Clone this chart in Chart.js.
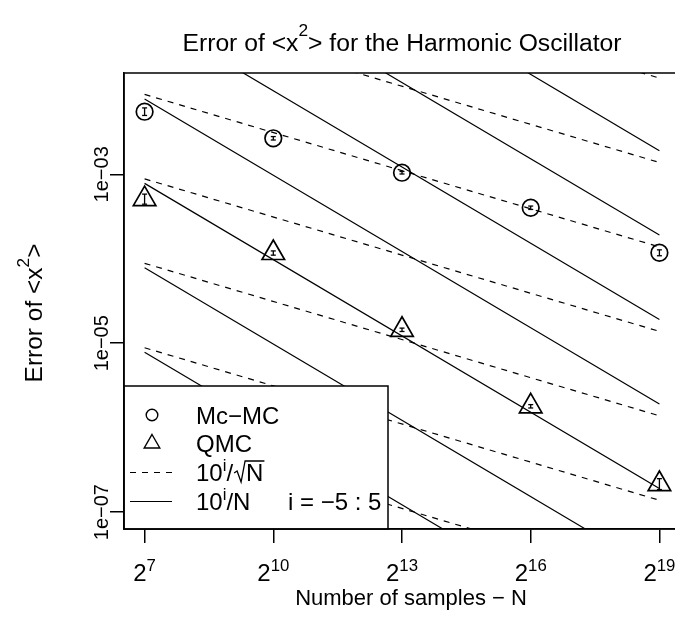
<!DOCTYPE html>
<html><head><meta charset="utf-8">
<script src="https://cdn.jsdelivr.net/npm/chart.js@4"></script>
<style>
html,body{margin:0;padding:0;background:#fff;overflow:hidden;}
#wrap{position:relative;width:700px;height:640px;}
</style></head>
<body><div id="wrap"><canvas id="c" width="700" height="640"></canvas></div>
<script>
// ---- data ----
const sampleSizes   = [128, 1024, 8192, 65536, 524288];      // N = 2^7 ... 2^19
const xTickExponents = [7, 10, 13, 16, 19];
const yTickValues   = [1e-7, 1e-5, 1e-3];
const yTickLabels   = ['1e\u221207', '1e\u221205', '1e\u221203'];
const mcmcError = [5.52e-3, 2.67e-3, 1.045e-3, 4.02e-4, 1.178e-4];
const mcmcLow   = [4.98e-3, 2.55e-3, 1.009e-3, 3.84e-4, 1.086e-4];
const mcmcHigh  = [6.12e-3, 2.80e-3, 1.081e-3, 4.21e-4, 1.276e-4];
const qmcError  = [5.08e-4, 1.17e-4, 1.442e-5, 1.79e-6, 2.15e-7];
const qmcLow    = [4.43e-4, 1.104e-4, 1.377e-5, 1.71e-6, 1.85e-7];
const qmcHigh   = [5.83e-4, 1.239e-4, 1.51e-5, 1.875e-6, 2.49e-7];
const refExponents = [-5, -4, -3, -2, -1, 0, 1, 2, 3, 4, 5]; // i = -5:5

// ---- style ----
const FONT = '"Liberation Sans", Arial, Helvetica, sans-serif';
const BASE = 24;
const f = px => px + 'px ' + FONT;

function richWidth(ctx, parts, base) {
  let w = 0;
  for (const p of parts) { ctx.font = f(p.sup ? base * 0.7 : base); w += ctx.measureText(p.t).width; }
  return w;
}
function drawRich(ctx, parts, x, y, align, base, raise) {
  base = base || BASE;
  raise = raise || 0.42;
  const w = richWidth(ctx, parts, base);
  let cx = align === 'center' ? x - w / 2 : (align === 'right' ? x - w : x);
  ctx.textAlign = 'left'; ctx.textBaseline = 'alphabetic';
  for (const p of parts) {
    ctx.font = f(p.sup ? base * 0.7 : base);
    ctx.fillText(p.t, cx, p.sup ? y - base * raise : y);
    cx += ctx.measureText(p.t).width;
  }
  return cx;
}

function errorBarData(lo, hi) {
  const d = [];
  sampleSizes.forEach((n, k) => { d.push({x: n, y: lo[k]}, {x: n, y: hi[k]}, {x: n, y: null}); });
  return d;
}

const lineEnds = [sampleSizes[0], sampleSizes[sampleSizes.length - 1]];
const refDatasets = [];
refExponents.forEach(i => {
  refDatasets.push({
    data: lineEnds.map(n => ({x: n, y: Math.pow(10, i) / Math.sqrt(n)})),
    borderColor: '#000', borderWidth: 1.2, borderDash: [6, 6], pointRadius: 0, fill: false
  });
  refDatasets.push({
    data: lineEnds.map(n => ({x: n, y: Math.pow(10, i) / n})),
    borderColor: '#000', borderWidth: 1.2, pointRadius: 0, fill: false
  });
});

const pointDatasets = [
  { label: 'Mc-MC', data: sampleSizes.map((n, k) => ({x: n, y: mcmcError[k]})),
    showLine: false, pointStyle: 'circle', pointRadius: 8.3, pointBorderWidth: 1.7,
    pointBorderColor: '#000', pointBackgroundColor: 'rgba(0,0,0,0)' },
  { label: 'QMC', data: sampleSizes.map((n, k) => ({x: n, y: qmcError[k]})),
    showLine: false, pointStyle: 'triangle', pointRadius: 13, pointBorderWidth: 1.7,
    pointBorderColor: '#000', pointBackgroundColor: 'rgba(0,0,0,0)' },
  { data: errorBarData(mcmcLow, mcmcHigh), spanGaps: false, borderColor: '#000', borderWidth: 1.3,
    pointStyle: 'line', pointRadius: 2.5, pointBorderWidth: 1.3, pointBorderColor: '#000' },
  { data: errorBarData(qmcLow, qmcHigh), spanGaps: false, borderColor: '#000', borderWidth: 1.3,
    pointStyle: 'line', pointRadius: 2.5, pointBorderWidth: 1.3, pointBorderColor: '#000' }
];

const rPlot = {
  id: 'rPlot',
  afterDatasetsDraw(chart) {
    const ctx = chart.ctx, a = chart.chartArea;
    const L = a.left, R = 388, T = 386, B = a.bottom;
    ctx.save();
    ctx.fillStyle = '#fff'; ctx.fillRect(L, T, R - L, B - T);
    ctx.strokeStyle = '#000'; ctx.lineWidth = 1.5; ctx.strokeRect(L, T, R - L, B - T);
    const rows = [415, 443.5, 472.5, 501.5];
    const sx = 152, tx = 196;
    ctx.lineWidth = 1.4;
    ctx.beginPath(); ctx.arc(sx, rows[0], 5.8, 0, Math.PI * 2); ctx.stroke();
    const r = 9, y1 = rows[1];
    ctx.beginPath(); ctx.moveTo(sx, y1 - r); ctx.lineTo(sx + 0.866 * r, y1 + 0.5 * r);
    ctx.lineTo(sx - 0.866 * r, y1 + 0.5 * r); ctx.closePath(); ctx.stroke();
    ctx.lineWidth = 1.2;
    ctx.setLineDash([6, 6]);
    ctx.beginPath(); ctx.moveTo(130, rows[2]); ctx.lineTo(172, rows[2]); ctx.stroke();
    ctx.setLineDash([]);
    ctx.beginPath(); ctx.moveTo(130, rows[3]); ctx.lineTo(172, rows[3]); ctx.stroke();
    ctx.fillStyle = '#000';
    const bo = 8.5;
    drawRich(ctx, [{t: 'Mc\u2212MC'}], tx, rows[0] + bo, 'left');
    drawRich(ctx, [{t: 'QMC'}], tx, rows[1] + bo, 'left');
    let ex = drawRich(ctx, [{t: '10'}, {t: 'i', sup: true}, {t: '/'}], tx, rows[2] + bo, 'left');
    ctx.font = f(BASE);
    const by = rows[2] + bo, nx = ex + 13, nw = ctx.measureText('N').width;
    ctx.lineWidth = 1.3;
    ctx.beginPath();
    ctx.moveTo(ex + 1, by - 8); ctx.lineTo(ex + 4, by - 10); ctx.lineTo(ex + 8, by + 1);
    ctx.lineTo(ex + 12, by - 20); ctx.lineTo(nx + nw + 1, by - 20);
    ctx.stroke();
    ctx.fillText('N', nx, by);
    drawRich(ctx, [{t: '10'}, {t: 'i', sup: true}, {t: '/N'}], tx, rows[3] + bo, 'left');
    drawRich(ctx, [{t: 'i = \u22125 : 5'}], 288, rows[3] + bo, 'left');
    ctx.restore();
  },
  afterDraw(chart) {
    const ctx = chart.ctx, a = chart.chartArea;
    const xs = chart.scales.x, ys = chart.scales.y;
    ctx.save();
    ctx.strokeStyle = '#000'; ctx.lineWidth = 1.5;
    ctx.strokeRect(a.left, a.top, a.right - a.left, a.bottom - a.top);
    ctx.fillStyle = '#000';
    xTickExponents.forEach(e => {
      const px = xs.getPixelForValue(Math.pow(2, e));
      drawRich(ctx, [{t: '2'}, {t: String(e), sup: true}], px, 581, 'center');
    });
    yTickValues.forEach((v, k) => {
      const py = ys.getPixelForValue(v);
      ctx.save(); ctx.translate(108, py); ctx.rotate(-Math.PI / 2);
      drawRich(ctx, [{t: yTickLabels[k]}], 0, 0, 'center', 20);
      ctx.restore();
    });
    const cx = (a.left + a.right) / 2;
    drawRich(ctx, [{t: 'Number of samples \u2212 N'}], cx + 9, 605, 'center', 22);
    ctx.save(); ctx.translate(42, 313); ctx.rotate(-Math.PI / 2);
    drawRich(ctx, [{t: 'Error of <x'}, {t: '2', sup: true}, {t: '>'}], 0, 0, 'center', 24.5, 0.55);
    ctx.restore();
    drawRich(ctx, [{t: 'Error of <x'}, {t: '2', sup: true}, {t: '> for the Harmonic Oscillator'}], cx, 51, 'center', 24.7, 0.6);
    ctx.restore();
  }
};

new Chart(document.getElementById('c'), {
  type: 'line',
  data: { datasets: refDatasets.concat(pointDatasets) },
  options: {
    responsive: false, animation: false, devicePixelRatio: 1,
    layout: { padding: { top: 73, right: 20, left: 0, bottom: 0 } },
    plugins: { legend: { display: false }, tooltip: { enabled: false } },
    scales: {
      x: {
        type: 'logarithmic', bounds: 'data',
        min: Math.pow(2, 6.52), max: Math.pow(2, 19.48),
        afterBuildTicks: s => { s.ticks = xTickExponents.map(e => ({value: Math.pow(2, e)})); },
        ticks: { callback: () => '', autoSkip: false, maxRotation: 0, padding: 0 },
        grid: { display: true, drawOnChartArea: false, drawTicks: true, tickLength: 14, color: '#000', lineWidth: 1.5 },
        border: { display: true, color: '#000', width: 1.5 },
        afterFit: s => { s.height = 111; }
      },
      y: {
        type: 'logarithmic', bounds: 'data',
        min: Math.pow(10, -7.2), max: Math.pow(10, -1.8),
        afterBuildTicks: s => { s.ticks = yTickValues.map(v => ({value: v})); },
        ticks: { callback: () => '', autoSkip: false, padding: 0 },
        grid: { display: true, drawOnChartArea: false, drawTicks: true, tickLength: 14, color: '#000', lineWidth: 1.5 },
        border: { display: true, color: '#000', width: 1.5 },
        afterFit: s => { s.width = 124; }
      }
    }
  },
  plugins: [rPlot]
});
</script>
</body></html>
